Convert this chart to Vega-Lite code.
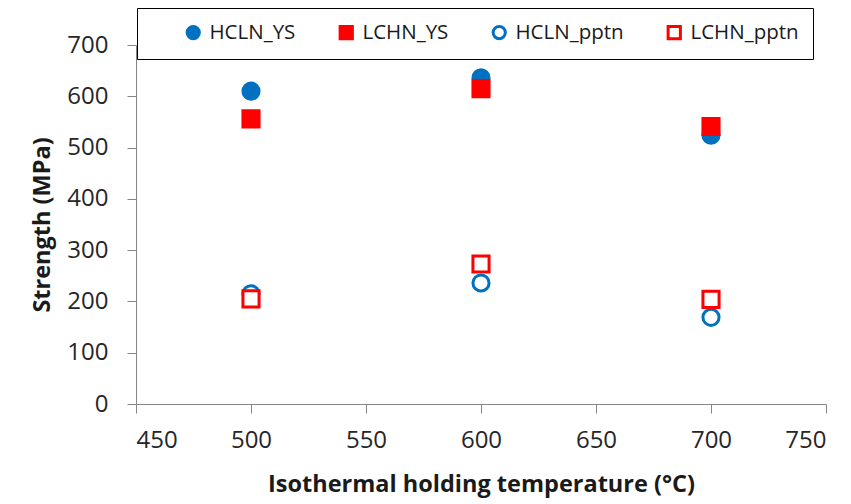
{
  "$schema": "https://vega.github.io/schema/vega-lite/v6.json",
  "autosize": "none",
  "padding": {"left": 136, "top": 45, "right": 25, "bottom": 101},
  "width": 690,
  "height": 359,
  "background": "white",
  "config": {
    "view": {"stroke": null},
    "font": "Open Sans",
    "axis": {
      "domainColor": "#868686",
      "tickColor": "#868686",
      "grid": false,
      "labelFont": "Open Sans",
      "labelFontSize": 24,
      "labelColor": "#262626",
      "titleFont": "Open Sans",
      "titleFontSize": 23.5,
      "titleFontWeight": "bold",
      "titleColor": "#1a1a1a",
      "tickSize": 9
    }
  },
  "data": {
    "values": [
      {"temp": 500, "strength": 610, "series": "HCLN_YS"},
      {"temp": 600, "strength": 636, "series": "HCLN_YS"},
      {"temp": 700, "strength": 524, "series": "HCLN_YS"},
      {"temp": 500, "strength": 556, "series": "LCHN_YS"},
      {"temp": 600, "strength": 615, "series": "LCHN_YS"},
      {"temp": 700, "strength": 541, "series": "LCHN_YS"},
      {"temp": 500, "strength": 215, "series": "HCLN_pptn"},
      {"temp": 600, "strength": 236, "series": "HCLN_pptn"},
      {"temp": 700, "strength": 169, "series": "HCLN_pptn"},
      {"temp": 500, "strength": 205, "series": "LCHN_pptn"},
      {"temp": 600, "strength": 273, "series": "LCHN_pptn"},
      {"temp": 700, "strength": 204, "series": "LCHN_pptn"}
    ]
  },
  "mark": {"type": "point", "size": 260, "strokeWidth": 3, "opacity": 1},
  "encoding": {
    "x": {
      "field": "temp",
      "type": "quantitative",
      "scale": {"domain": [450, 750], "nice": false, "zero": false},
      "axis": {
        "title": "Isothermal holding temperature (°C)",
        "values": [450, 500, 550, 600, 650, 700, 750],
        "labelPadding": 15,
        "titlePadding": 20
      }
    },
    "y": {
      "field": "strength",
      "type": "quantitative",
      "scale": {"domain": [0, 700], "nice": false},
      "axis": {
        "title": "Strength (MPa)",
        "values": [0, 100, 200, 300, 400, 500, 600, 700],
        "labelPadding": 19,
        "titlePadding": 12
      }
    },
    "shape": {
      "field": "series",
      "type": "nominal",
      "scale": {
        "domain": ["HCLN_YS", "LCHN_YS", "HCLN_pptn", "LCHN_pptn"],
        "range": ["circle", "square", "circle", "square"]
      },
      "legend": {
        "title": " ",
        "titleOrient": "left",
        "titleFontSize": 1,
        "titlePadding": 32,
        "orient": "none",
        "legendX": 1,
        "legendY": -37,
        "direction": "horizontal",
        "columns": 4,
        "columnPadding": 38,
        "padding": 14,
        "strokeColor": "#000000",
        "fillColor": "#FFFFFF",
        "labelFont": "Open Sans",
        "labelFontSize": 20.5,
        "labelColor": "#1a1a1a",
        "labelOffset": 6,
        "labelLimit": 300,
        "labelExpr": "datum.label === 'LCHN_pptn' ? datum.label + '\u2007\u2007' : datum.label",
        "symbolSize": 150,
        "symbolStrokeWidth": 3
      }
    },
    "fill": {
      "field": "series",
      "type": "nominal",
      "scale": {
        "domain": ["HCLN_YS", "LCHN_YS", "HCLN_pptn", "LCHN_pptn"],
        "range": ["#0070C0", "#FF0000", "#FFFFFF", "#FFFFFF"]
      }
    },
    "stroke": {
      "field": "series",
      "type": "nominal",
      "scale": {
        "domain": ["HCLN_YS", "LCHN_YS", "HCLN_pptn", "LCHN_pptn"],
        "range": ["#0070C0", "#FF0000", "#0070C0", "#FF0000"]
      }
    }
  }
}
